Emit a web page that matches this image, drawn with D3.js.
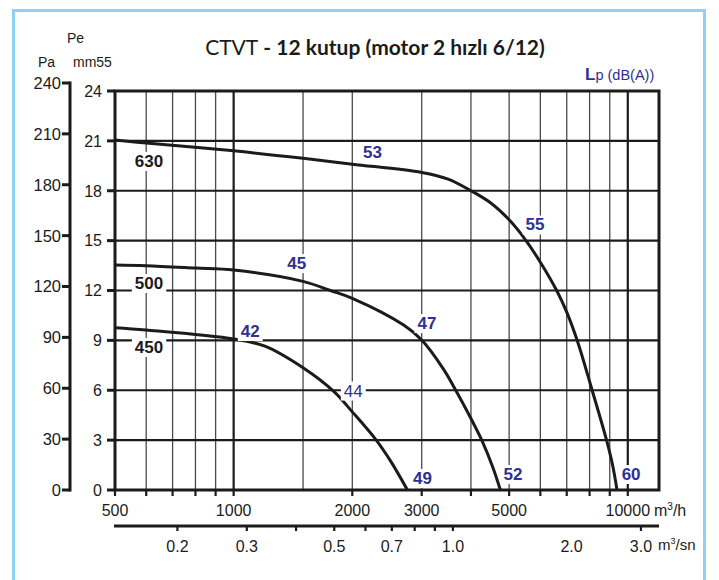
<!DOCTYPE html>
<html>
<head>
<meta charset="utf-8">
<script src="https://cdn.jsdelivr.net/npm/d3@7"></script>
<style>
  html, body { margin: 0; padding: 0; background: #fff; }
  svg { display: block; }
  .num { font-family: "Liberation Sans", Arial, sans-serif; }
</style>
</head>
<body>
<div id="chart"></div>
<script>
// Fan curves, flow in m3/h vs pressure in mmSS
const curve630 = [[500, 21.05], [600, 20.87], [1000, 20.4], [1500, 19.95], [2000, 19.6], [3000, 19.1],
  [3500, 18.7], [4000, 18.0], [4500, 17.25], [5000, 16.25], [5500, 15.05], [6000, 13.7], [6600, 12.0],
  [7000, 10.7], [7460, 8.92], [8120, 6.0], [8840, 2.97], [9150, 1.5], [9390, 0]];
const curve500 = [[500, 13.53], [600, 13.49], [800, 13.35], [1000, 13.23], [1500, 12.55], [1760, 12.0],
  [2000, 11.53], [2700, 9.92], [3000, 9.02], [3400, 7.3], [3660, 6.0], [4000, 4.3], [4280, 2.9],
  [4540, 1.4], [4750, 0]];
const curve450 = [[500, 9.76], [600, 9.62], [1000, 9.08], [1200, 8.65], [1500, 7.35],
  [1800, 5.9], [2000, 4.7], [2300, 3.0], [2500, 1.75], [2760, 0]];

const speedLabels = [
  { text: '630', q: 610, p: 19.43 },
  { text: '500', q: 610, p: 12.09 },
  { text: '450', q: 610, p: 8.24 }
];
const noiseLabels = [
  { text: '53', q: 2250, p: 19.97, bold: true },
  { text: '55', q: 5814, p: 15.61, bold: true },
  { text: '45', q: 1445, p: 13.29, bold: true },
  { text: '47', q: 3093, p: 9.68, bold: true },
  { text: '42', q: 1102, p: 9.2, bold: true },
  { text: '44', q: 2012, p: 5.62, bold: false },
  { text: '49', q: 3014, p: 0.36, bold: true },
  { text: '52', q: 5113, p: 0.6, bold: true },
  { text: '60', q: 10195, p: 0.6, bold: true }
];

const flowTicks = [500, 600, 700, 800, 900, 1000, 2000, 3000, 4000, 5000, 6000, 7000, 8000, 9000, 10000];
const flowGrid = [600, 700, 800, 900, 1500, 2000, 3000, 4000, 5000, 6000, 7000, 8000, 9000];
const flowMajor = [1000, 10000];
const flowLabels = [500, 1000, 2000, 3000, 5000, 10000];
const secTicks = [0.2, 0.3, 0.4, 0.5, 0.6, 0.7, 0.8, 0.9, 1.0, 3.0];
const secLabels = [0.2, 0.3, 0.5, 0.7, 1.0, 2.0, 3.0];
const mmTicks = [0, 3, 6, 9, 12, 15, 18, 21, 24];
const paTicks = [0, 30, 60, 90, 120, 150, 180, 210, 240];

const W = 719, H = 580;
const blue = '#2e3192';
const ink = '#1b1b1b';

const svg = d3.select('#chart').append('svg')
  .attr('width', W).attr('height', H);

// light blue frame
svg.append('rect')
  .attr('x', 13.5).attr('y', 10.5)
  .attr('width', 691).attr('height', 600)
  .attr('fill', 'none')
  .attr('stroke', '#8dd2f0')
  .attr('stroke-width', 3);

const x = d3.scaleLog().domain([500, 12000]).range([115, 659]);
const y = d3.scaleLinear().domain([0, 24]).range([490, 91]);
const yPa = d3.scaleLinear().domain([0, 240]).range([490, 83]);

// grid
svg.append('g').selectAll('line').data(flowGrid).join('line')
  .attr('x1', d => x(d)).attr('x2', d => x(d))
  .attr('y1', y(24)).attr('y2', y(0))
  .attr('stroke', '#4a4a4a').attr('stroke-width', 1.3);

svg.append('g').selectAll('line').data(flowMajor).join('line')
  .attr('x1', d => x(d)).attr('x2', d => x(d))
  .attr('y1', y(24)).attr('y2', y(0))
  .attr('stroke', ink).attr('stroke-width', 2.2);

svg.append('g').selectAll('line').data(mmTicks.slice(1, -1)).join('line')
  .attr('x1', x(500)).attr('x2', x(12000))
  .attr('y1', d => y(d)).attr('y2', d => y(d))
  .attr('stroke', ink).attr('stroke-width', 2.2);

// plot border
svg.append('rect')
  .attr('x', x(500)).attr('y', y(24))
  .attr('width', x(12000) - x(500)).attr('height', y(0) - y(24))
  .attr('fill', 'none').attr('stroke', ink).attr('stroke-width', 3);

// curves
const line = d3.line()
  .x(d => x(d[0]))
  .y(d => y(d[1]))
  .curve(d3.curveCatmullRom.alpha(0.5));

svg.append('g').selectAll('path').data([curve630, curve500, curve450]).join('path')
  .attr('d', line)
  .attr('fill', 'none')
  .attr('stroke', ink)
  .attr('stroke-width', 3)
  .attr('stroke-linejoin', 'round');

// mmSS axis (left edge of plot)
const mmAxis = svg.append('g').attr('class', 'num');
mmAxis.selectAll('line').data(mmTicks).join('line')
  .attr('x1', x(500) - 8).attr('x2', x(500))
  .attr('y1', d => y(d)).attr('y2', d => y(d))
  .attr('stroke', ink).attr('stroke-width', 3);
mmAxis.selectAll('text').data(mmTicks).join('text')
  .attr('x', x(500) - 13).attr('y', d => y(d))
  .attr('dy', '0.36em')
  .attr('text-anchor', 'end')
  .style('font-size', '16px')
  .attr('fill', ink)
  .text(d => d);

// Pa axis
const paX = 70;
const paAxis = svg.append('g').attr('class', 'num');
paAxis.append('line')
  .attr('x1', paX).attr('x2', paX)
  .attr('y1', yPa(240) - 1.5).attr('y2', yPa(0) + 1.5)
  .attr('stroke', ink).attr('stroke-width', 3);
paAxis.selectAll('line.tk').data(paTicks).join('line')
  .attr('class', 'tk')
  .attr('x1', paX - 8).attr('x2', paX)
  .attr('y1', d => yPa(d)).attr('y2', d => yPa(d))
  .attr('stroke', ink).attr('stroke-width', 3);
paAxis.selectAll('text').data(paTicks).join('text')
  .attr('x', paX - 9).attr('y', d => yPa(d))
  .attr('dy', '0.36em')
  .attr('text-anchor', 'end')
  .style('font-size', '16.5px')
  .attr('fill', ink)
  .text(d => d);

// m3/h axis ticks and labels
const flowAxis = svg.append('g').attr('class', 'num');
flowAxis.selectAll('line').data(flowTicks).join('line')
  .attr('x1', d => x(d)).attr('x2', d => x(d))
  .attr('y1', y(0)).attr('y2', y(0) + 6)
  .attr('stroke', ink).attr('stroke-width', 2.2);
flowAxis.selectAll('text').data(flowLabels).join('text')
  .attr('x', d => x(d)).attr('y', 516)
  .attr('text-anchor', 'middle')
  .style('font-size', '16px')
  .attr('fill', ink)
  .text(d => d);
const uh = flowAxis.append('text')
  .attr('x', 654).attr('y', 516)
  .style('font-size', '16px').attr('fill', ink);
uh.append('tspan').text('m');
uh.append('tspan').attr('dy', -6).style('font-size', '10px').text('3');
uh.append('tspan').attr('dy', 6).text('/h');

// m3/sn axis
const sec = d => x(d * 3600);
const secAxis = svg.append('g').attr('class', 'num');
secAxis.append('line')
  .attr('x1', x(500) - 1).attr('x2', x(12000))
  .attr('y1', 526).attr('y2', 526)
  .attr('stroke', ink).attr('stroke-width', 3);
secAxis.selectAll('line.tk').data(secTicks).join('line')
  .attr('class', 'tk')
  .attr('x1', d => sec(d)).attr('x2', d => sec(d))
  .attr('y1', 526).attr('y2', 531)
  .attr('stroke', ink).attr('stroke-width', 2.2);
secAxis.selectAll('text').data(secLabels).join('text')
  .attr('x', d => sec(d)).attr('y', 552)
  .attr('text-anchor', 'middle')
  .style('font-size', '16px')
  .attr('fill', ink)
  .text(d => d.toFixed(1));
const us = secAxis.append('text')
  .attr('x', 658).attr('y', 550)
  .style('font-size', '15px').attr('fill', ink);
us.append('tspan').text('m');
us.append('tspan').attr('dy', -6).style('font-size', '9px').text('3');
us.append('tspan').attr('dy', 6).text('/sn');

// unit captions
const units = svg.append('g').attr('class', 'num').attr('fill', ink).style('font-size', '14px');
units.append('text').attr('x', 67).attr('y', 43).text('Pe');
units.append('text').attr('x', 38).attr('y', 67).text('Pa');
units.append('text').attr('x', 73).attr('y', 67).text('mm55');

// title
const title = svg.append('text')
  .attr('x', 375).attr('y', 55)
  .attr('text-anchor', 'middle')
  .style('font-family', 'Lato, "Open Sans", sans-serif')
  .style('font-size', '21px')
  .attr('fill', ink);
title.append('tspan').style('font-weight', 'normal').text('CTVT');
title.append('tspan').style('font-weight', 'bold').text(' - 12 kutup (motor 2 hızlı 6/12)');

const lp = svg.append('text')
  .attr('x', 585).attr('y', 80)
  .style('font-family', '"Liberation Sans", Arial, sans-serif')
  .style('font-size', '14.5px')
  .attr('fill', blue);
lp.append('tspan').style('font-weight', 'bold').style('font-size', '17px').text('L');
lp.append('tspan').text('p (dB(A))');

// curve labels with white knock-out
function drawLabels(data, color) {
  const g = svg.append('g').attr('class', 'num');
  const items = g.selectAll('g').data(data).join('g')
    .attr('transform', d => `translate(${x(d.q)},${y(d.p)})`);
  const texts = items.append('text')
    .attr('text-anchor', 'middle')
    .style('font-size', '17px')
    .style('font-weight', d => d.bold === false ? 'normal' : 'bold')
    .attr('fill', color)
    .text(d => d.text);
  texts.each(function () {
    const b = this.getBBox();
    d3.select(this.parentNode).insert('rect', 'text')
      .attr('x', b.x - 3).attr('y', b.y)
      .attr('width', b.width + 6).attr('height', b.height)
      .attr('fill', '#fff');
  });
}
drawLabels(speedLabels, ink);
drawLabels(noiseLabels, blue);
</script>
</body>
</html>
